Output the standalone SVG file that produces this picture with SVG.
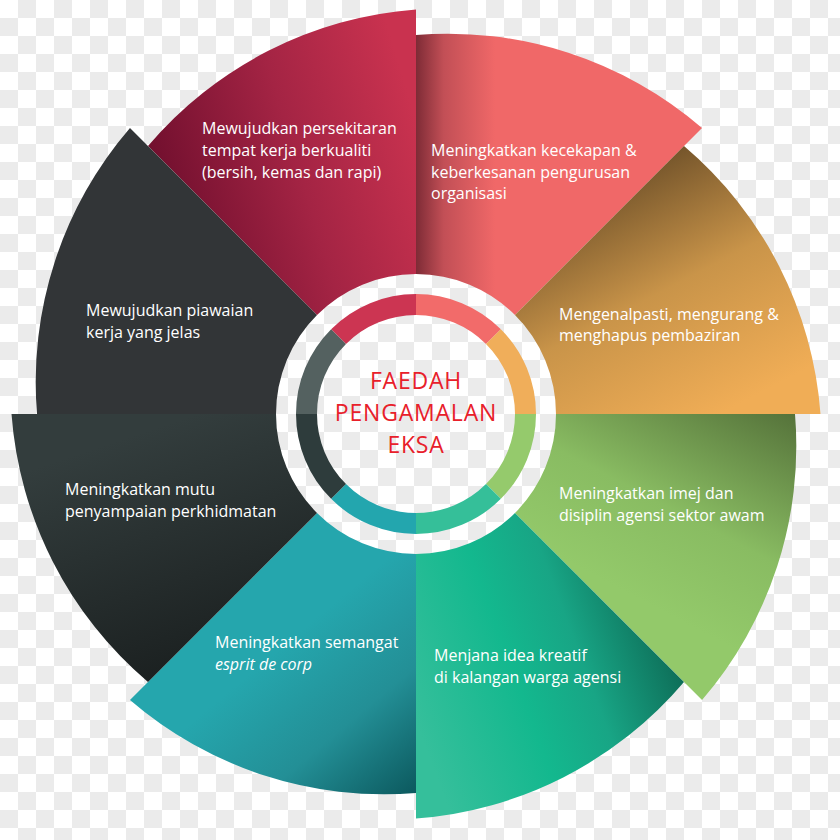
<svg xmlns="http://www.w3.org/2000/svg" width="840" height="840" viewBox="0 0 840 840">
<defs>
<pattern id="checker" x="0" y="0" width="36" height="36" patternUnits="userSpaceOnUse">
<rect width="36" height="36" fill="#ffffff"/>
<rect x="18" y="0" width="18" height="18" fill="#ebebeb"/>
<rect x="0" y="18" width="18" height="18" fill="#ebebeb"/>
</pattern>
<linearGradient id="gCrimson" gradientUnits="userSpaceOnUse" x1="148" y1="200" x2="416" y2="120">
<stop offset="0" stop-color="#6c0d2c"/>
<stop offset="0.55" stop-color="#a42444"/>
<stop offset="1" stop-color="#c9324f"/>
</linearGradient>
<linearGradient id="gSalmon" gradientUnits="userSpaceOnUse" x1="416" y1="0" x2="495" y2="0">
<stop offset="0" stop-color="#7e2b36"/>
<stop offset="0.35" stop-color="#c24f56"/>
<stop offset="1" stop-color="#f06868"/>
</linearGradient>
<linearGradient id="gOrange" gradientUnits="userSpaceOnUse" x1="660" y1="140" x2="785" y2="380">
<stop offset="0" stop-color="#6a4d27"/>
<stop offset="0.5" stop-color="#c99449"/>
<stop offset="1" stop-color="#f0ad56"/>
</linearGradient>
<linearGradient id="gGreen" gradientUnits="userSpaceOnUse" x1="770" y1="400" x2="660" y2="610">
<stop offset="0" stop-color="#55723a"/>
<stop offset="0.6" stop-color="#89bc62"/>
<stop offset="1" stop-color="#93c96a"/>
</linearGradient>
<linearGradient id="gTealGreen" gradientUnits="userSpaceOnUse" x1="685" y1="665" x2="430" y2="760">
<stop offset="0" stop-color="#0d6a55"/>
<stop offset="0.35" stop-color="#18a585"/>
<stop offset="0.6" stop-color="#13b88e"/>
<stop offset="1" stop-color="#35bf9b"/>
</linearGradient>
<linearGradient id="gTeal" gradientUnits="userSpaceOnUse" x1="420" y1="795" x2="290" y2="640">
<stop offset="0" stop-color="#0b575c"/>
<stop offset="0.5" stop-color="#238f96"/>
<stop offset="1" stop-color="#25a6ad"/>
</linearGradient>
<linearGradient id="gDark" gradientUnits="userSpaceOnUse" x1="170" y1="690" x2="90" y2="450">
<stop offset="0" stop-color="#1a1f1f"/>
<stop offset="1" stop-color="#333d3d"/>
</linearGradient>
<style>
.lbl { font-family: "Open Sans", "Noto Sans", sans-serif; font-size: 16px; fill: #ffffff; }
.ttl { font-family: "Open Sans", "Noto Sans", sans-serif; font-size: 23px; fill: #e8202a; text-anchor: middle; letter-spacing: 0.8px; }
.seg { fill: none; stroke-width: 21; stroke-linecap: butt; }
</style>
</defs>
<rect width="840" height="840" fill="url(#checker)"/>
<g id="connectors"></g>
<g id="sector-crimson">
<path d="M317.01,315.01 L148,146 A389.5,389.5 0 0 1 416,9.5 L416,274 A140,140 0 0 0 317.01,315.01 Z" fill="url(#gCrimson)"/>
<text class="lbl" x="202" y="134">Mewujudkan persekitaran</text>
<text class="lbl" x="202" y="156">tempat kerja berkualiti</text>
<text class="lbl" x="202" y="178">(bersih, kemas dan rapi)</text>
</g>
<g id="sector-salmon">
<path d="M416,274 L416,35 A389.5,389.5 0 0 1 702.03,127.97 L514.99,315.01 A140,140 0 0 0 416,274 Z" fill="url(#gSalmon)"/>
<text class="lbl" x="431" y="156">Meningkatkan kecekapan &amp;</text>
<text class="lbl" x="431" y="177.5">keberkesanan pengurusan</text>
<text class="lbl" x="431" y="199">organisasi</text>
</g>
<g id="sector-orange">
<path d="M514.99,315.01 L684,146 A389.5,389.5 0 0 1 820.5,414 L556,414 A140,140 0 0 0 514.99,315.01 Z" fill="url(#gOrange)"/>
<text class="lbl" x="559" y="320">Mengenalpasti, mengurang &amp;</text>
<text class="lbl" x="559" y="341">menghapus pembaziran</text>
</g>
<g id="sector-green">
<path d="M556,414 L795,414 A389.5,389.5 0 0 1 702.03,700.03 L514.99,512.99 A140,140 0 0 0 556,414 Z" fill="url(#gGreen)"/>
<text class="lbl" x="559" y="499">Meningkatkan imej dan</text>
<text class="lbl" x="559" y="521">disiplin agensi sektor awam</text>
</g>
<g id="sector-tealgreen">
<path d="M514.99,512.99 L684,682 A389.5,389.5 0 0 1 416,818.5 L416,554 A140,140 0 0 0 514.99,512.99 Z" fill="url(#gTealGreen)"/>
<text class="lbl" x="434" y="661">Menjana idea kreatif</text>
<text class="lbl" x="434" y="682.5">di kalangan warga agensi</text>
</g>
<g id="sector-teal">
<path d="M416,554 L416,793 A389.5,389.5 0 0 1 129.97,700.03 L317.01,512.99 A140,140 0 0 0 416,554 Z" fill="url(#gTeal)"/>
<text class="lbl" x="215" y="648">Meningkatkan semangat</text>
<text class="lbl" x="215" y="669.5" font-style="italic">esprit de corp</text>
</g>
<g id="sector-dark">
<path d="M317.01,512.99 L148,682 A389.5,389.5 0 0 1 11.5,414 L276,414 A140,140 0 0 0 317.01,512.99 Z" fill="url(#gDark)"/>
<text class="lbl" x="65" y="495">Meningkatkan mutu</text>
<text class="lbl" x="65" y="517">penyampaian perkhidmatan</text>
</g>
<g id="sector-slate">
<path d="M276,414 L37,414 A389.5,389.5 0 0 1 129.97,127.97 L317.01,315.01 A140,140 0 0 0 276,414 Z" fill="#323537"/>
<text class="lbl" x="86" y="316">Mewujudkan piawaian</text>
<text class="lbl" x="86" y="338">kerja yang jelas</text>
</g>
<g id="ring">
<path class="seg" stroke="#cc3552" d="M338.57,336.57 A109.5,109.5 0 0 1 416,304.5"/>
<path class="seg" stroke="#f26b6a" d="M416,304.5 A109.5,109.5 0 0 1 493.43,336.57"/>
<path class="seg" stroke="#f0ae5a" d="M493.43,336.57 A109.5,109.5 0 0 1 525.5,414"/>
<path class="seg" stroke="#95ca6c" d="M525.5,414 A109.5,109.5 0 0 1 493.43,491.43"/>
<path class="seg" stroke="#35bf99" d="M493.43,491.43 A109.5,109.5 0 0 1 416,523.5"/>
<path class="seg" stroke="#23a6ae" d="M416,523.5 A109.5,109.5 0 0 1 338.57,491.43"/>
<path class="seg" stroke="#2e3c3c" d="M338.57,491.43 A109.5,109.5 0 0 1 306.5,414"/>
<path class="seg" stroke="#546160" d="M306.5,414 A109.5,109.5 0 0 1 338.57,336.57"/>
</g>
<g id="center-title">
<text class="ttl" x="416" y="389">FAEDAH</text>
<text class="ttl" x="416" y="421">PENGAMALAN</text>
<text class="ttl" x="416" y="453">EKSA</text>
</g>
</svg>
